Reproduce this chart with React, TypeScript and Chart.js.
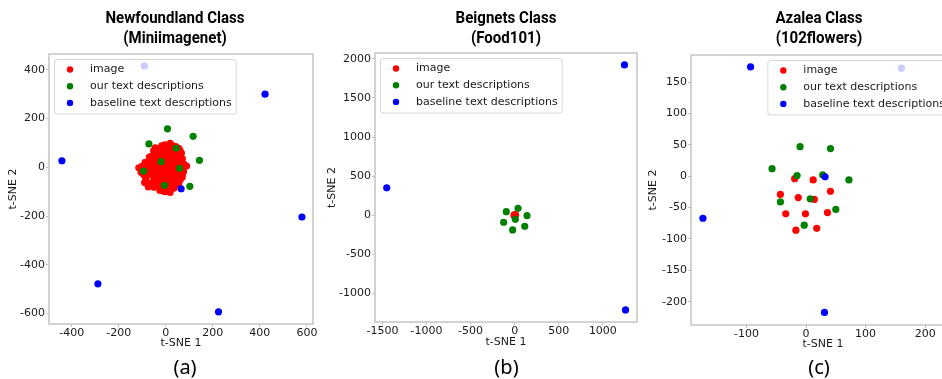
import React, { useEffect, useRef } from "react";
import { Chart, registerables } from "chart.js";
Chart.register(...registerables);

type Pt = [number, number];

const seriesLabels = ["image", "our text descriptions", "baseline text descriptions"];
const seriesColors = ["#ff0000", "#008000", "#0000ff"];

// ---- Panel (a): Newfoundland Class (Miniimagenet)
const aImage: Pt[] = [
  [-5, 92], [18, 98], [30, 88], [-12, 80], [8, 82], [42, 85], [55, 78], [-30, 70], [-52, 68], [0, 70],
  [22, 72], [48, 64], [66, 58], [-20, 58], [10, 60], [32, 55], [-40, 52], [58, 45], [-8, 45], [20, 45],
  [40, 40], [-28, 38], [70, 35], [5, 32], [-50, 30], [30, 28], [-15, 25], [52, 22], [-70, 22], [-88, 20],
  [12, 18], [78, 12], [-35, 12], [38, 10], [-5, 8], [-100, 5], [-115, -2], [22, 2], [60, 0], [-55, 0],
  [-20, -5], [5, -8], [40, -10], [-80, -10], [75, -18], [-40, -18], [20, -20], [-10, -25], [55, -28], [-95, -30],
  [-60, -32], [35, -35], [0, -38], [-25, -42], [70, -40], [-85, -48], [15, -50], [-45, -55], [50, -55], [-10, -60],
  [30, -62], [-65, -68], [-90, -62], [0, -70], [45, -72], [-30, -75], [20, -80], [-50, -82], [-12, -88], [10, -95],
  [18, -103], [-75, -80], [62, -50], [-2, 60], [25, 30], [-25, -10], [48, -2], [8, -30], [-38, -30], [28, -45],
  [12, 40], [-48, 15], [65, 15], [-5, -15], [-65, -15], [35, 65], [-18, 88], [88, 5], [-105, -20], [-70, 42],
  [-45, 80], [15, 90], [-35, 60], [60, 70], [25, 85], [-60, 45], [45, 52], [-15, 70], [5, 50], [-30, 22],
  [15, 28], [45, 28], [-60, 12], [28, 15], [-10, 35], [-45, -5], [10, 8], [30, -8], [-30, -25], [45, -20],
  [-8, -45], [20, -35], [60, -15], [-50, -40], [5, -55], [38, -48], [-20, -62], [-35, -55], [25, -70], [-55, -60],
  [8, -82], [-25, -95], [55, -65], [-80, -30], [-75, 5], [-5, -100], [35, -85], [-40, -70], [70, -28], [-15, 10],
];
const aOurs: Pt[] = [
  [7, 158], [116, 127], [-72, 96], [44, 78], [143, 29], [-20, 23], [-95, -16], [58, -4], [-6, -74], [102, -78],
];
const aBaseline: Pt[] = [
  [-442, 27], [422, 300], [-91, 416], [65, -88], [-289, -478], [224, -593], [579, -204],
];
const aXTicks = [-400, -200, 0, 200, 400, 600];
const aYTicks = [-600, -400, -200, 0, 200, 400];

// ---- Panel (b): Beignets Class (Food101)
const bImage: Pt[] = [[-8, 4], [2, 10], [6, -4], [-3, -6], [10, 6]];
const bOurs: Pt[] = [[-95, 46], [38, 89], [140, -5], [-125, -89], [7, -51], [114, -140], [-23, -187]];
const bBaseline: Pt[] = [[-1451, 351], [1245, 1921], [1257, -1209]];
const bXTicks = [-1500, -1000, -500, 0, 500, 1000];
const bYTicks = [-1000, -500, 0, 500, 1000, 1500, 2000];

// ---- Panel (c): Azalea Class (102flowers)
const cImage: Pt[] = [
  [-19, -4], [12, -6], [41, -24], [-43, -29], [-13, -34], [14, -37], [-34, -60], [-1, -60], [36, -58], [-17, -86], [18, -83],
];
const cOurs: Pt[] = [
  [-10, 47], [41, 44], [-57, 12], [-15, 1], [28, 2], [72, -6], [-43, -41], [7, -36], [50, -53], [-3, -78],
];
const cBaseline: Pt[] = [[-93, 174], [160, 172], [32, -1], [-173, -67], [31, -217]];
const cXTicks = [-100, 0, 100, 200];
const cYTicks = [-200, -150, -100, -50, 0, 50, 100, 150];

interface Panel {
  title: string[];
  label: string;
  series: Pt[][];
  xTicks: number[];
  yTicks: number[];
  xRange: [number, number];
  yRange: [number, number];
  area: { left: number; top: number; right: number; bottom: number };
  yTitlePad: number;
  xTitlePad: number;
  legendSide: "left" | "right";
  titleX: number;
  labelX: number;
}

const panels: Panel[] = [
  {
    title: ["Newfoundland Class", "(Miniimagenet)"], label: "(a)",
    series: [aImage, aOurs, aBaseline], xTicks: aXTicks, yTicks: aYTicks,
    xRange: [-497, 626], yRange: [-643, 465],
    area: { left: 49, top: 54, right: 313, bottom: 324 },
    yTitlePad: 7.7, xTitlePad: 4, legendSide: "left", titleX: 175, labelX: 185,
  },
  {
    title: ["Beignets Class", "(Food101)"], label: "(b)",
    series: [bImage, bOurs, bBaseline], xTicks: bXTicks, yTicks: bYTicks,
    xRange: [-1584, 1387], yRange: [-1363, 2073],
    area: { left: 375, top: 53, right: 637, bottom: 322 },
    yTitlePad: 0.5, xTitlePad: 3, legendSide: "left", titleX: 506, labelX: 506.5,
  },
  {
    title: ["Azalea Class", "(102flowers)"], label: "(c)",
    series: [cImage, cOurs, cBaseline], xTicks: cXTicks, yTicks: cYTicks,
    xRange: [-193, 250], yRange: [-237, 193],
    area: { left: 691, top: 55, right: 955, bottom: 325 },
    yTitlePad: 5.2, xTitlePad: 4, legendSide: "right", titleX: 819, labelX: 819,
  },
];

const TEXT_FONT = "'DejaVu Sans', sans-serif";
const TEXT_COLOR = "#1a1a1a";
const FRAME_COLOR = "#c4c4c4";

const framePlugin = {
  id: "frameBox",
  beforeDatasetsDraw(chart: any) {
    const { ctx, chartArea: a } = chart;
    ctx.save();
    ctx.strokeStyle = FRAME_COLOR;
    ctx.lineWidth = 1.5;
    ctx.strokeRect(a.left, a.top, a.right - a.left, a.bottom - a.top);
    ctx.restore();
  },
};

const legendPlugin = {
  id: "boxLegend",
  afterDatasetsDraw(chart: any, _args: any, opts: any) {
    const { ctx, chartArea: a } = chart;
    ctx.save();
    ctx.font = `11px ${TEXT_FONT}`;
    const textW = Math.max(...seriesLabels.map((s) => ctx.measureText(s).width));
    const w = 35 + textW + 5;
    const h = 54.5;
    const x = opts.side === "right" ? a.right - 5.5 - w : a.left + 5.5;
    const y = a.top + 5.5;
    ctx.beginPath();
    const r = 2.5;
    ctx.moveTo(x + r, y);
    ctx.lineTo(x + w - r, y);
    ctx.quadraticCurveTo(x + w, y, x + w, y + r);
    ctx.lineTo(x + w, y + h - r);
    ctx.quadraticCurveTo(x + w, y + h, x + w - r, y + h);
    ctx.lineTo(x + r, y + h);
    ctx.quadraticCurveTo(x, y + h, x, y + h - r);
    ctx.lineTo(x, y + r);
    ctx.quadraticCurveTo(x, y, x + r, y);
    ctx.closePath();
    ctx.fillStyle = "rgba(255,255,255,0.8)";
    ctx.fill();
    ctx.strokeStyle = "rgba(204,204,204,0.8)";
    ctx.lineWidth = 1;
    ctx.stroke();
    seriesLabels.forEach((s, i) => {
      const cy = y + 10 + i * 16.7;
      ctx.beginPath();
      ctx.arc(x + 15.5, cy, 3.2, 0, Math.PI * 2);
      ctx.fillStyle = seriesColors[i];
      ctx.fill();
      ctx.fillStyle = TEXT_COLOR;
      ctx.textBaseline = "middle";
      ctx.textAlign = "left";
      ctx.fillText(s, x + 35.5, cy);
    });
    ctx.restore();
  },
};

const Y_W = 50;
const X_H = 30;
const RIGHT_PAD = 8;
const H = 379;

function ScatterPanel({ p }: { p: Panel }) {
  const ref = useRef<HTMLCanvasElement>(null);
  const canvasLeft = p.area.left - Y_W;
  const width = p.area.right + RIGHT_PAD - canvasLeft;

  useEffect(() => {
    const font = { family: TEXT_FONT, size: 11 };
    const order = [2, 1, 0];
    const chart = new Chart(ref.current as HTMLCanvasElement, {
      type: "scatter",
      data: {
        datasets: p.series.map((pts, i) => ({
          label: seriesLabels[i],
          data: pts.map(([x, y]) => ({ x, y })),
          backgroundColor: seriesColors[i],
          borderWidth: 0,
          pointRadius: 3.6,
          pointHoverRadius: 3.6,
          order: order[i],
        })),
      },
      options: {
        responsive: false,
        animation: false,
        events: [],
        layout: {
          padding: { left: 0, top: p.area.top, right: RIGHT_PAD, bottom: H - p.area.bottom - X_H },
        },
        plugins: {
          legend: { display: false },
          tooltip: { enabled: false },
          title: { display: false },
          boxLegend: { side: p.legendSide },
        } as any,
        scales: {
          x: {
            type: "linear",
            position: "bottom",
            min: p.xRange[0],
            max: p.xRange[1],
            afterBuildTicks: (s: any) => {
              s.ticks = p.xTicks.map((v) => ({ value: v }));
            },
            afterFit: (s: any) => {
              s.height = X_H;
            },
            ticks: { font, color: TEXT_COLOR, padding: 0, maxRotation: 0, autoSkip: false, callback: (v: any) => String(v) },
            grid: { display: true, drawOnChartArea: false, drawTicks: true, tickLength: 3, color: FRAME_COLOR, lineWidth: 1 },
            border: { display: false },
            title: { display: true, text: "t-SNE 1", font, color: TEXT_COLOR, padding: { top: 0, bottom: p.xTitlePad } },
          },
          y: {
            type: "linear",
            position: "left",
            min: p.yRange[0],
            max: p.yRange[1],
            afterBuildTicks: (s: any) => {
              s.ticks = p.yTicks.map((v) => ({ value: v }));
            },
            afterFit: (s: any) => {
              s.width = Y_W;
            },
            ticks: { font, color: TEXT_COLOR, padding: 1, autoSkip: false, callback: (v: any) => String(v) },
            grid: { display: true, drawOnChartArea: false, drawTicks: true, tickLength: 3, color: FRAME_COLOR, lineWidth: 1 },
            border: { display: false },
            title: { display: true, text: "t-SNE 2", font, color: TEXT_COLOR, padding: { top: p.yTitlePad, bottom: 0 } },
          },
        },
      },
      plugins: [framePlugin, legendPlugin],
    } as any);
    return () => chart.destroy();
  }, []);

  return (
    <>
      <canvas
        ref={ref}
        width={width}
        height={H}
        style={{ position: "absolute", left: canvasLeft, top: 0, width, height: H }}
      />
      <div
        style={{
          position: "absolute",
          left: p.titleX,
          top: 7,
          transform: "translateX(-50%) scaleX(0.885)",
          textAlign: "center",
          whiteSpace: "nowrap",
          fontFamily: "'Roboto', sans-serif",
          fontWeight: 700,
          fontSize: 17,
          lineHeight: "20px",
          color: "#000",
        }}
      >
        {p.title.map((t, i) => (
          <div key={i}>{t}</div>
        ))}
      </div>
      <div
        style={{
          position: "absolute",
          left: p.labelX,
          top: 354,
          transform: "translateX(-50%)",
          whiteSpace: "nowrap",
          fontFamily: "'Noto Sans', sans-serif",
          fontSize: 20,
          lineHeight: "26px",
          color: "#000",
        }}
      >
        {p.label}
      </div>
    </>
  );
}

export default function App() {
  return (
    <div
      style={{
        position: "fixed",
        left: 0,
        top: 0,
        width: 942,
        height: 379,
        overflow: "hidden",
        background: "#fff",
      }}
    >
      {panels.map((p, i) => (
        <ScatterPanel key={i} p={p} />
      ))}
    </div>
  );
}
